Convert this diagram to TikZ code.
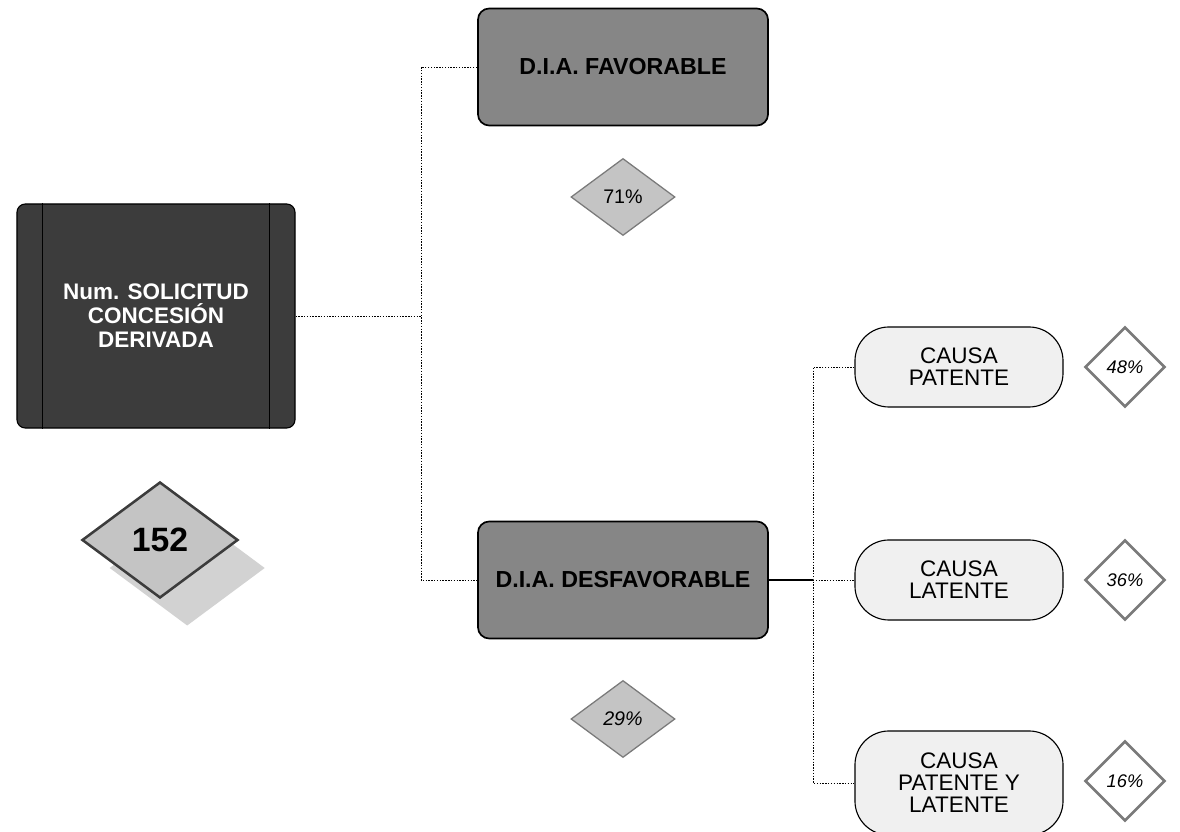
\documentclass[tikz,border=0pt]{standalone}
\usepackage{fontspec}
\setmainfont{Liberation Sans}
\usepackage{tikz}
\usetikzlibrary{shapes,arrows,positioning,shadows}
\definecolor{darkbox}{HTML}{3C3C3C}
\definecolor{midbox}{HTML}{868686}
\definecolor{lightdia}{HTML}{C4C4C4}
\definecolor{causafill}{HTML}{F0F0F0}
\definecolor{shadowgray}{HTML}{D2D2D2}
\definecolor{rimgray}{HTML}{7A7A7A}
\tikzstyle{mainbox} = [rectangle, rounded corners=6pt, draw, fill=darkbox, text=white, font=\fontsize{16}{17}\selectfont\bfseries, align=center, minimum width=6.95cm, minimum height=5.6cm, line width=0.8pt]
\tikzstyle{diabox} = [rectangle, rounded corners=8pt, draw, fill=midbox, font=\fontsize{16.5}{18}\selectfont\bfseries, minimum width=7.25cm, minimum height=2.925cm, line width=1.2pt]
\tikzstyle{causabox} = [rectangle, rounded corners=0.85cm, draw, fill=causafill, font=\fontsize{16}{15.6}\selectfont, align=center, minimum width=5.2cm, minimum height=2cm, line width=0.8pt]
\tikzstyle{pctnode} = [diamond, draw=rimgray, fill=lightdia, inner sep=0pt, font=\fontsize{14}{16}\selectfont, minimum width=2.6cm, minimum height=1.925cm, line width=0.9pt]
\tikzstyle{wpctnode} = [diamond, draw=rimgray, fill=white, inner sep=0pt, font=\fontsize{13}{15}\selectfont\itshape, minimum width=2cm, minimum height=2cm, line width=1.8pt]
\tikzstyle{line} = [draw, dash pattern=on 1pt off 1pt, line width=0.7pt]

\begin{document}
\begin{tikzpicture}[x=0.025cm, y=-0.025cm]
			\useasboundingbox (0,0) rectangle (1180,832);

			\node [mainbox] (main) at (156,316) {Num. SOLICITUD\\CONCESIÓN\\DERIVADA};
			\draw [line width=0.8pt] ([xshift=0.65cm]main.north west) -- ([xshift=0.65cm]main.south west);
			\draw [line width=0.8pt] ([xshift=-0.65cm]main.north east) -- ([xshift=-0.65cm]main.south east);
			\node [pctnode, minimum width=3.9cm, minimum height=2.9cm, draw=darkbox, line width=1.8pt, font=\fontsize{24}{26}\selectfont\bfseries,
				drop shadow={shadow xshift=0.68cm, shadow yshift=-0.7cm, fill=shadowgray, opacity=1}] (total) at (160,540) {152};

			\node [diabox] (fav) at (623,67) {D.I.A. FAVORABLE};
			\node [pctnode] (pfav) at (623,197) {71\%};
			\node [diabox] (desfav) at (623,580) {D.I.A. DESFAVORABLE};
			\node [pctnode, font=\fontsize{14}{16}\selectfont\itshape] (pdesfav) at (623,719) {29\%};

			\node [causabox] (patente) at (959,367) {CAUSA\\PATENTE};
			\node [causabox] (latente) at (959,580) {CAUSA\\LATENTE};
			\node [causabox, minimum height=2.6cm] (ambas) at (959,783) {CAUSA\\PATENTE Y\\LATENTE};
			\node [wpctnode] (ppatente) at (1125,367) {48\%};
			\node [wpctnode] (platente) at (1125,580) {36\%};
			\node [wpctnode] (pambas) at (1125,781) {16\%};

			\coordinate (jl) at (421,316);
			\coordinate (jfav) at (421,67);
			\coordinate (jdes) at (421,580);
			\coordinate (jr) at (813,580);

			\path [line] (main.east) -- (jl);
			\path [line] (fav.west) -- (jfav) -- (jdes) -- (desfav.west);
			\draw [line width=0.8pt] (desfav.east) -- (jr);
			\path [line] (jr) -- (latente.west);
			\path [line] (patente.west) -| (jr) |- (ambas.west);
		\end{tikzpicture}
\end{document}
